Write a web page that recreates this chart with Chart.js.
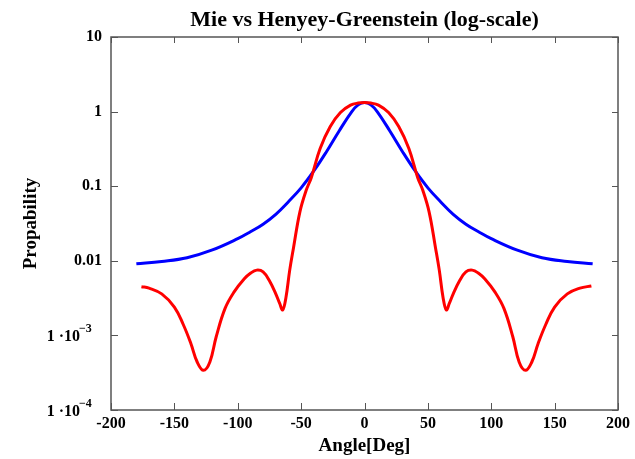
<!DOCTYPE html>
<html>
<head>
<meta charset="utf-8">
<script src="https://cdn.jsdelivr.net/npm/chart.js@4.4.0/dist/chart.umd.min.js"></script>
<style>
  html, body { margin: 0; padding: 0; background: #fff; }
</style>
</head>
<body>
<canvas id="myChart" width="635" height="459"></canvas>
<script>
const TITLE = 'Mie vs Henyey-Greenstein (log-scale)';

// Mie phase function (red)
const MIE_ANGLES = [-176, -170, -160, -150, -143, -137, -132, -127, -122, -117, -110, -103, -95, -90, -85, -80, -75, -70, -67, -64.5, -62, -59, -56, -51, -46, -42, -35, -27, -19, -11, -5, 0,
                    5, 11, 19, 27, 35, 42, 46, 51, 56, 59, 62, 64.5, 67, 70, 75, 80, 85, 90, 95, 103, 110, 117, 122, 127, 132, 137, 143, 150, 160, 170, 179];
const MIE_VALUES = [0.0045, 0.0043, 0.0036, 0.0024, 0.0014, 0.00078, 0.00044, 0.00034, 0.00044, 0.00096, 0.0023, 0.0038, 0.0057, 0.0068, 0.0075, 0.0071, 0.0054, 0.0036, 0.0027, 0.0022, 0.0032, 0.0075, 0.015, 0.045, 0.088, 0.13, 0.32, 0.63, 0.97, 1.22, 1.30, 1.32,
                    1.30, 1.22, 0.97, 0.63, 0.32, 0.13, 0.088, 0.045, 0.015, 0.0075, 0.0032, 0.0022, 0.0027, 0.0036, 0.0054, 0.0071, 0.0075, 0.0068, 0.0057, 0.0038, 0.0023, 0.00096, 0.00044, 0.00034, 0.00044, 0.00078, 0.0014, 0.0024, 0.0036, 0.0043, 0.0046];

// Henyey-Greenstein (blue)
const HG_ANGLES = [-180, -160, -140, -120, -100, -90, -80, -70, -60, -50, -40, -30, -20, -10, -5, 0,
                   5, 10, 20, 30, 40, 50, 60, 70, 80, 90, 100, 120, 140, 160, 180];
const HG_VALUES = [0.0091, 0.0098, 0.0110, 0.0140, 0.0198, 0.0245, 0.031, 0.042, 0.062, 0.095, 0.16, 0.29, 0.55, 1.0, 1.23, 1.32,
                   1.23, 1.0, 0.55, 0.29, 0.16, 0.095, 0.062, 0.042, 0.031, 0.0245, 0.0198, 0.0140, 0.0110, 0.0098, 0.0091];

const X_TICKS = [-200, -150, -100, -50, 0, 50, 100, 150, 200];
const Y_TICKS = [1e-4, 1e-3, 0.01, 0.1, 1, 10];
const Y_LABELS = ['1 \u00b710', '1 \u00b710', '0.01', '0.1', '1', '10'];
const Y_EXP = ['\u22124', '\u22123', null, null, null, null];

const FONT = 'Liberation Serif';

function toPoints(xs, ys) {
    return xs.map((x, i) => ({ x: x, y: ys[i] }));
}

// frame with inward ticks, title and the 1·10^n labels
const framePlugin = {
    id: 'frame',
    afterDraw(chart) {
        const c = chart.ctx;
        const a = chart.chartArea;
        const xs = chart.scales.x, ys = chart.scales.y;
        c.save();
        c.strokeStyle = '#555';
        c.lineWidth = 1.5;
        c.strokeRect(a.left, a.top, a.right - a.left, a.bottom - a.top);
        c.lineWidth = 1;
        c.beginPath();
        X_TICKS.forEach(v => {
            const px = Math.round(xs.getPixelForValue(v)) + 0.5;
            c.moveTo(px, a.bottom); c.lineTo(px, a.bottom - 7);
            c.moveTo(px, a.top); c.lineTo(px, a.top + 6);
        });
        Y_TICKS.forEach(v => {
            const py = Math.round(ys.getPixelForValue(v)) + 0.5;
            c.moveTo(a.left, py); c.lineTo(a.left + 7, py);
            c.moveTo(a.right, py); c.lineTo(a.right - 6, py);
        });
        c.stroke();

        c.fillStyle = '#000';
        c.font = 'bold 22px "' + FONT + '"';
        c.textAlign = 'center';
        c.textBaseline = 'alphabetic';
        c.fillText(TITLE, (a.left + a.right) / 2, 26);

        Y_TICKS.forEach((v, i) => {
            if (!Y_EXP[i]) return;
            const py = ys.getPixelForValue(v);
            c.font = 'bold 16px "' + FONT + '"';
            c.textAlign = 'right';
            c.fillText(Y_LABELS[i], 80, py + 6);
            c.font = 'bold 12px "' + FONT + '"';
            c.textAlign = 'left';
            c.fillText(Y_EXP[i], 79, py - 3);
        });
        c.restore();
    }
};

const ctx = document.getElementById('myChart').getContext('2d');
const myChart = new Chart(ctx, {
    type: 'line',
    data: {
        datasets: [{
            label: 'Mie',
            data: toPoints(MIE_ANGLES, MIE_VALUES),
            borderColor: '#ff0000',
            borderWidth: 3,
            pointRadius: 0,
            fill: false,
            tension: 0.4
        }, {
            label: 'Henyey-Greenstein',
            data: toPoints(HG_ANGLES, HG_VALUES),
            borderColor: '#0000ff',
            borderWidth: 3,
            pointRadius: 0,
            fill: false,
            tension: 0.4
        }]
    },
    options: {
        responsive: false,
        animation: false,
        layout: { padding: { top: 37, right: 17, left: 0, bottom: 0 } },
        plugins: { legend: { display: false }, tooltip: { enabled: false }, title: { display: false } },
        scales: {
            x: {
                type: 'linear',
                min: -200,
                max: 200,
                afterBuildTicks: s => { s.ticks = X_TICKS.map(v => ({ value: v })); },
                afterFit: s => { s.height = 49; },
                grid: { display: false, drawTicks: false },
                border: { display: false },
                ticks: { padding: 4, color: '#000', maxRotation: 0, font: { family: FONT, size: 16, weight: 'bold' } },
                title: { display: true, text: 'Angle[Deg]', color: '#000', padding: { top: 0, bottom: 1.4 }, font: { family: FONT, size: 19, weight: 'bold' } }
            },
            y: {
                type: 'logarithmic',
                min: 1e-4,
                max: 10,
                afterBuildTicks: s => { s.ticks = Y_TICKS.map(v => ({ value: v })); },
                afterFit: s => { s.width = 111; },
                grid: { display: false, drawTicks: false },
                border: { display: false },
                ticks: {
                    padding: 9, color: '#000', font: { family: FONT, size: 16, weight: 'bold' },
                    callback: v => { const i = Y_TICKS.indexOf(v); return (i < 0 || Y_EXP[i]) ? '' : Y_LABELS[i]; }
                },
                title: { display: true, text: 'Propability', color: '#000', padding: { top: 19.6, bottom: 0 }, font: { family: FONT, size: 19, weight: 'bold' } }
            }
        }
    },
    plugins: [framePlugin]
});
</script>
</body>
</html>
